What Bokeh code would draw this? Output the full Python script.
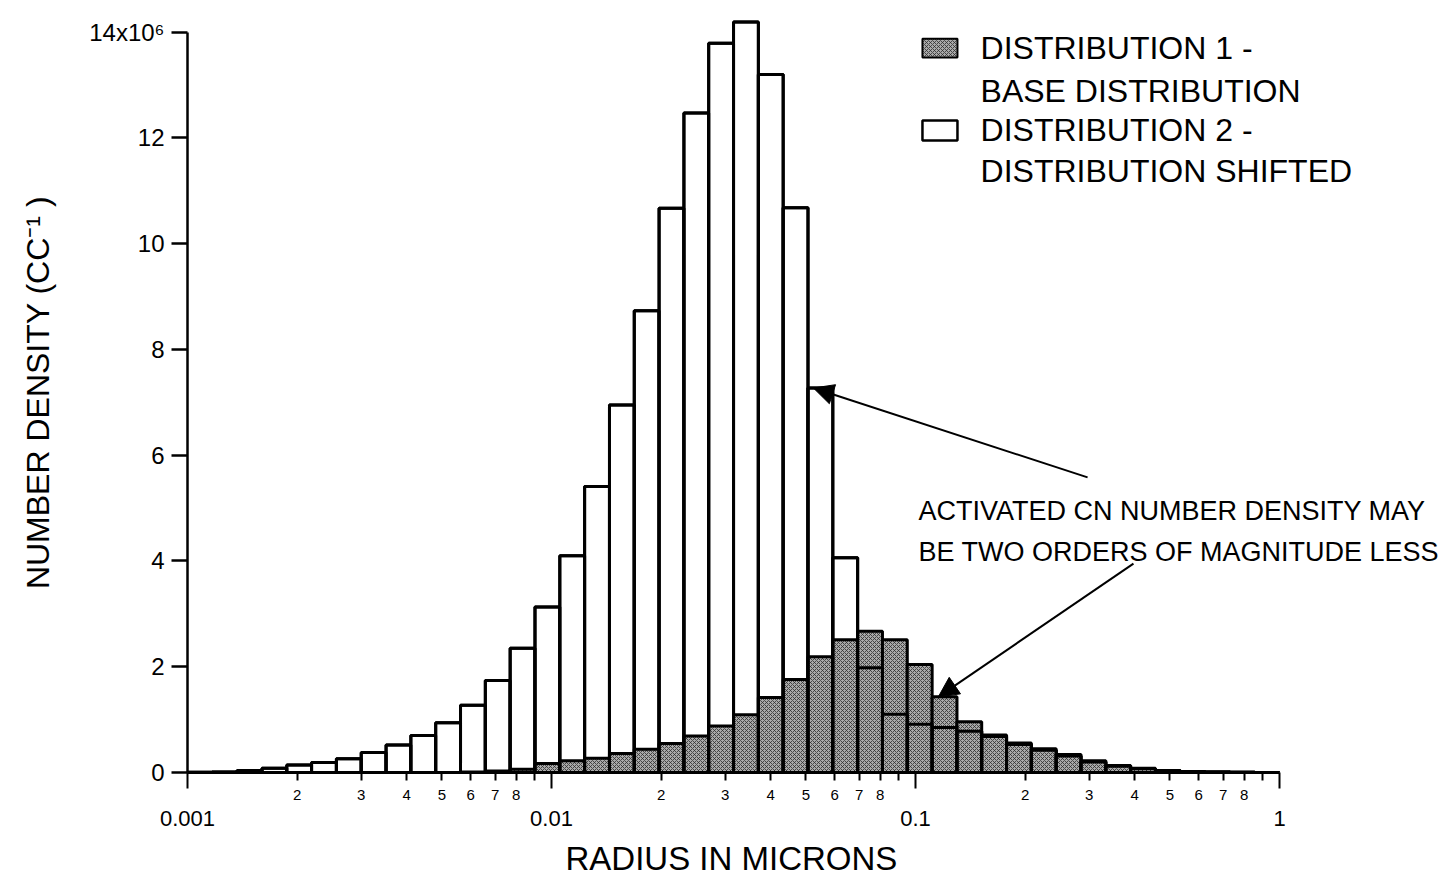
from bokeh.plotting import figure
from bokeh.models import FixedTicker, LogAxis, Arrow, NormalHead, Label, Range1d, ColumnDataSource, Title
from bokeh.embed import file_html
from bokeh.resources import INLINE

# ---------------- data (values in units of 10^6 per cc) ----------------
bin_edges_um = [0.001, 0.00117, 0.001369, 0.001602, 0.001874, 0.002192, 0.002565,
                0.003001, 0.003512, 0.004108, 0.004807, 0.005624, 0.006580, 0.007699,
                0.009008, 0.01054, 0.01233, 0.01443, 0.01688, 0.01975, 0.02311, 0.02703,
                0.03163, 0.03701, 0.04330, 0.05066, 0.05927, 0.06935, 0.08114, 0.09493,
                0.1111, 0.1300, 0.1520, 0.1779, 0.2081, 0.2435, 0.2849, 0.3334, 0.3900,
                0.4563, 0.5339, 0.6247, 0.7309, 0.8551, 1.0]

dist1_base = [0, 0, 0, 0, 0, 0, 0, 0, 0, 0,
              0.0, 0.01, 0.03, 0.06, 0.17, 0.22, 0.27, 0.36, 0.44, 0.55,
              0.69, 0.88, 1.09, 1.42, 1.76, 2.19, 2.51, 2.67, 2.51, 2.04,
              1.43, 0.96, 0.71, 0.56, 0.45, 0.34, 0.22, 0.13, 0.08, 0.04,
              0.02, 0.01, 0.005, 0.0]

dist2_shifted = [0.005, 0.01, 0.04, 0.08, 0.14, 0.19, 0.26, 0.38, 0.52, 0.70,
                 0.94, 1.27, 1.74, 2.35, 3.13, 4.10, 5.41, 6.95, 8.73, 10.67,
                 12.47, 13.79, 14.19, 13.20, 10.68, 7.27, 4.06, 1.98, 1.10, 0.91,
                 0.85, 0.78, 0.68, 0.53, 0.42, 0.31, 0.20, 0.12, 0.07, 0.035,
                 0.015, 0.008, 0.004, 0.0]

y_ticks = [0, 2, 4, 6, 8, 10, 12, 14]
y_top_label = "14x10\u2076"
x_decades = [0.001, 0.01, 0.1, 1.0]
x_decade_labels = ["0.001", "0.01", "0.1", "1"]
x_minor_multipliers = [2, 3, 4, 5, 6, 7, 8, 9]
x_minor_labels = ["2", "3", "4", "5", "6", "7", "8", ""]

x_title = "RADIUS IN MICRONS"
y_title = "NUMBER DENSITY (CC\u207b\u00b9 )"
legend_lines = ["DISTRIBUTION 1 -", "BASE DISTRIBUTION", "DISTRIBUTION 2 -", "DISTRIBUTION  SHIFTED"]
note_lines = ["ACTIVATED CN NUMBER DENSITY MAY", "BE TWO ORDERS OF MAGNITUDE LESS"]

FONT = "Liberation Sans"

# ---------------- figure ----------------
p = figure(width=1450, height=886, x_axis_type="log",
           x_range=Range1d(0.001, 2.876), y_range=Range1d(0, 14.37),
           output_backend="svg", toolbar_location=None,
           min_border_left=187, min_border_right=4, min_border_top=12, min_border_bottom=114)
p.outline_line_color = None
p.grid.visible = False
p.background_fill_color = "white"
p.border_fill_color = "white"

src = ColumnDataSource(dict(left=bin_edges_um[:-1], right=bin_edges_um[1:],
                            d1=dist1_base, d2=dist2_shifted))

shade = dict(fill_color="#a9a9a9", hatch_pattern="x", hatch_scale=4,
             hatch_weight=0.8, hatch_color="#2e2e2e")

p.quad(left="left", right="right", bottom=0, top="d2", source=src,
       fill_color="white", line_color="black", line_width=3)
p.quad(left="left", right="right", bottom=0, top="d1", source=src,
       line_color="black", line_width=3, **shade)
p.quad(left="left", right="right", bottom=0, top="d2", source=src,
       fill_color=None, line_color="black", line_width=3)

# ---------------- x axes ----------------
minor_vals = [m * d for d in x_decades[:-1] for m in x_minor_multipliers]
minor_labs = [lab for d in x_decades[:-1] for lab in x_minor_labels]

ax1 = p.xaxis[0]
ax1.bounds = (x_decades[0], x_decades[-1])
ax1.ticker = FixedTicker(ticks=minor_vals, minor_ticks=x_decades)
ax1.major_label_overrides = {v: l for v, l in zip(minor_vals, minor_labs)}
ax1.major_tick_out = 8
ax1.major_tick_in = 0
ax1.minor_tick_out = 16
ax1.minor_tick_in = 0
ax1.axis_line_width = 3
ax1.major_tick_line_width = 2
ax1.minor_tick_line_width = 2
ax1.major_label_text_font = FONT
ax1.major_label_text_font_size = "15px"
ax1.major_label_text_color = "black"
ax1.major_label_standoff = 1

ax2 = LogAxis(ticker=FixedTicker(ticks=x_decades, minor_ticks=[]),
              bounds=(x_decades[0], x_decades[-1]),
              major_label_overrides={v: l for v, l in zip(x_decades, x_decade_labels)},
              axis_line_color=None, major_tick_line_color=None, minor_tick_line_color=None,
              major_tick_out=0, major_tick_in=0, minor_tick_out=0, minor_tick_in=0,
              major_label_standoff=8, major_label_text_font=FONT,
              major_label_text_font_size="22px", major_label_text_color="black")
p.add_layout(ax2, "below")

# x-axis title, placed under the x axis (left-aligned so it sits under the 0.001–1 span)
p.add_layout(Title(text=x_title, align="left", offset=378, standoff=19,
                   text_font=FONT, text_font_size="33px", text_font_style="normal",
                   text_color="black"), "below")

# ---------------- y axis ----------------
ay = p.yaxis[0]
ay.ticker = FixedTicker(ticks=y_ticks, minor_ticks=[])
ay.bounds = (0, 14)
ay.major_label_overrides = {14: y_top_label}
ay.major_tick_out = 16
ay.major_tick_in = 0
ay.major_tick_line_width = 2.5
ay.axis_line_width = 2.5
ay.major_label_text_font = FONT
ay.major_label_text_font_size = "24px"
ay.major_label_text_color = "black"
ay.major_label_standoff = 7
ay.axis_label = y_title
ay.axis_label_text_font = FONT
ay.axis_label_text_font_size = "32px"
ay.axis_label_text_font_style = "normal"
ay.axis_label_text_color = "black"
ay.axis_label_standoff = 30

# ---------------- legend (manual) ----------------
p.quad(left=[0.1045], right=[0.1304], bottom=[13.52], top=[13.875],
       line_color="black", line_width=2, **shade)
p.quad(left=[0.1045], right=[0.1304], bottom=[11.95], top=[12.33],
       fill_color="white", line_color="black", line_width=2.5)
for txt, yv in zip(legend_lines, [13.69, 12.89, 12.14, 11.38]):
    p.add_layout(Label(x=0.1509, y=yv, text=txt, text_baseline="middle", text_align="left",
                       text_font=FONT, text_font_size="32px", text_color="black"))

# ---------------- annotation ----------------
for txt, yv in zip(note_lines, [4.95, 4.16]):
    p.add_layout(Label(x=0.1019, y=yv, text=txt, text_baseline="middle", text_align="left",
                       text_font=FONT, text_font_size="27px", text_color="black"))

p.add_layout(Arrow(end=NormalHead(size=20, fill_color="black", line_color="black"),
                   x_start=0.297, y_start=5.58,
                   x_end=bin_edges_um[25] * 1.035, y_end=dist2_shifted[25],
                   line_color="black", line_width=2))
p.add_layout(Arrow(end=NormalHead(size=20, fill_color="black", line_color="black"),
                   x_start=0.397, y_start=3.95,
                   x_end=bin_edges_um[30] * 1.04, y_end=dist1_base[30],
                   line_color="black", line_width=2))

open("out.html", "w").write(file_html(p, INLINE))
